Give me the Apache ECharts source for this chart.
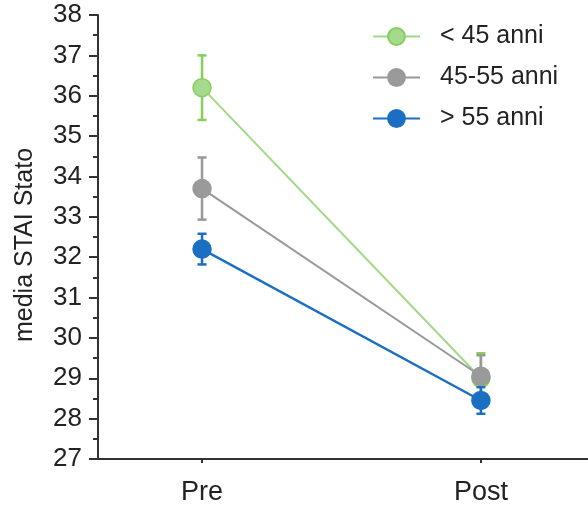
<!DOCTYPE html>
<html>
<head>
<meta charset="utf-8">
<script src="https://cdn.jsdelivr.net/npm/echarts@6/dist/echarts.min.js"></script>
<style>html,body{margin:0;padding:0;background:#fff}#c{width:588px;height:505px}</style>
</head>
<body>
<div id="c"></div>
<script>
var categories = ['Pre', 'Post'];
var seriesNames = ['< 45 anni', '45-55 anni', '> 55 anni'];
var meanUnder45 = [36.2, 29.0];
var errUnder45 = [0.8, 0.62];
var mean45to55 = [33.7, 29.05];
var err45to55 = [0.77, 0.52];
var meanOver55 = [32.2, 28.45];
var errOver55 = [0.38, 0.33];
var yTicks = [27, 28, 29, 30, 31, 32, 33, 34, 35, 36, 37, 38];

var colors = ['#86cf5a', '#999999', '#1a6fc2'];
var lineColors = ['#a2d986', '#999999', '#1a6fc2'];
var fills = ['#a6d98b', '#9a9a9a', '#1a6fc2'];
var means = [meanUnder45, mean45to55, meanOver55];
var errs = [errUnder45, err45to55, errOver55];
var lineWidths = [2, 2, 2.4];

var FONT = 'Liberation Sans, Arial, sans-serif';

function pts(arr) { return arr.map(function (v, i) { return [i + 1, v]; }); }

var series = [];
means.forEach(function (m, k) {
  series.push({
    type: 'custom',
    name: seriesNames[k] + ' err',
    silent: true,
    z: 1 + k * 3,
    data: m.map(function (v, i) { return [i + 1, v - errs[k][i], v + errs[k][i]]; }),
    renderItem: function (params, api) {
      var lo = api.coord([api.value(0), api.value(1)]);
      var hi = api.coord([api.value(0), api.value(2)]);
      var w = 4.5;
      var st = { stroke: colors[k], lineWidth: 2.5 };
      return {
        type: 'group',
        children: [
          { type: 'line', shape: { x1: lo[0], y1: lo[1], x2: hi[0], y2: hi[1] }, style: st },
          { type: 'line', shape: { x1: lo[0] - w, y1: lo[1], x2: lo[0] + w, y2: lo[1] }, style: st },
          { type: 'line', shape: { x1: hi[0] - w, y1: hi[1], x2: hi[0] + w, y2: hi[1] }, style: st }
        ]
      };
    }
  });
  series.push({
    type: 'line',
    name: seriesNames[k],
    z: 2 + k * 3,
    data: pts(m),
    symbol: 'circle',
    symbolSize: 18,
    showAllSymbol: true,
    lineStyle: { color: lineColors[k], width: lineWidths[k] },
    itemStyle: { color: fills[k], borderColor: colors[k], borderWidth: 1.5 }
  });
});

var chart = echarts.init(document.getElementById('c'), null, { renderer: 'canvas' });
chart.setOption({
  animation: false,
  backgroundColor: '#ffffff',
  grid: { left: 98, right: 0, top: 15, bottom: 46, containLabel: false, outerBoundsMode: 'none' },
  legend: {
    orient: 'vertical',
    left: 367,
    top: 19,
    itemWidth: 47,
    itemHeight: 21,
    itemGap: 16,
    data: seriesNames,
    textStyle: { fontFamily: FONT, fontSize: 25, color: '#222', padding: [0, 0, 0, 15] }
  },
  xAxis: {
    type: 'value',
    min: 0.627,
    max: 2.384,
    splitLine: { show: false },
    axisLine: { lineStyle: { color: '#333', width: 2 } },
    axisTick: { show: true, customValues: [1, 2], length: 4, lineStyle: { color: '#333', width: 2 } },
    axisLabel: {
      customValues: [1, 2],
      formatter: function (v) { return categories[Math.round(v) - 1] || ''; },
      fontFamily: FONT, fontSize: 27, color: '#222', margin: 20
    }
  },
  yAxis: {
    type: 'value',
    min: yTicks[0],
    max: yTicks[yTicks.length - 1],
    interval: 1,
    name: 'media STAI Stato',
    nameLocation: 'middle',
    nameGap: 60,
    nameTextStyle: { fontFamily: FONT, fontSize: 25, color: '#222', padding: [0, 16, 0, 0] },
    splitLine: { show: false },
    axisLine: { show: true, lineStyle: { color: '#333', width: 2 } },
    axisTick: { show: true, length: 9, lineStyle: { color: '#333', width: 2 } },
    minorTick: { show: true, splitNumber: 2, length: 5, lineStyle: { color: '#333', width: 2 } },
    axisLabel: { fontFamily: FONT, fontSize: 26, color: '#222', margin: 16 }
  },
  series: series
});
</script>
</body>
</html>
